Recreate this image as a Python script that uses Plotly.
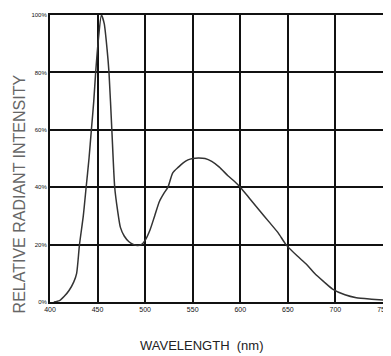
import plotly.graph_objects as go

wavelength = [404, 410, 415, 420, 425, 428, 431, 435, 438, 441, 443.5, 446, 448, 451, 454, 457, 460, 462, 465, 468, 471, 474, 478, 483, 488, 492, 496, 500, 505, 510, 515, 520, 524, 529, 535, 540, 545, 550, 556, 563, 570, 578, 587, 594, 600, 610, 620, 630, 640, 648, 660, 670, 678, 688, 697, 710, 722, 738, 750]
intensity = [0, 0.5, 2, 4, 7, 10, 20, 30, 40, 50, 60, 70, 80, 92, 100, 97, 88, 80, 60, 40, 32, 26, 23, 21, 20, 19.7, 20, 21.5, 25, 30, 35, 38, 40, 45, 47, 48.5, 49.5, 50, 50.2, 50, 49, 47, 44, 42, 40, 36, 32, 28, 24, 20, 16, 13, 10, 7, 4.5, 2.5, 1.5, 1, 0.7]

x_ticks = [400, 450, 500, 550, 600, 650, 700, 750]
x_labels = ["400", "450", "500", "550", "600", "650", "700", "750"]
y_ticks = [0, 20, 40, 60, 80, 100]
y_labels = ["0%", "20%", "40%", "60%", "80%", "100%"]

fig = go.Figure()
fig.add_trace(go.Scatter(
    x=wavelength, y=intensity, mode="lines",
    line=dict(color="#333333", width=1.5, shape="spline", smoothing=0.6),
    showlegend=False, hoverinfo="skip"))

fig.update_layout(
    width=383, height=348,
    margin=dict(l=42, r=8, t=7, b=54),
    paper_bgcolor="white", plot_bgcolor="white",
    font=dict(family="Liberation Sans, Arial, sans-serif", color="#000"),
    xaxis=dict(range=[400, 750], tickvals=x_ticks, ticktext=x_labels,
               showgrid=True, gridcolor="#111", gridwidth=2,
               showline=True, linecolor="#111", linewidth=2, mirror=True,
               zeroline=False, ticks="", automargin=False,
               tickfont=dict(size=7, color="#111")),
    yaxis=dict(range=[0, 100], tickvals=y_ticks, ticktext=y_labels,
               showgrid=True, gridcolor="#111", gridwidth=2,
               showline=True, linecolor="#111", linewidth=2, mirror=True,
               zeroline=False, ticks="", automargin=False,
               tickfont=dict(size=6, color="#111")),
    annotations=[
        dict(text="WAVELENGTH  (nm)", xref="paper", yref="paper", x=0.456, y=-0.15,
             showarrow=False, xanchor="center", yanchor="middle",
             font=dict(size=13, color="#222")),
        dict(text="RELATIVE RADIANT INTENSITY", xref="paper", yref="paper", x=-0.093, y=0.375,
             showarrow=False, xanchor="center", yanchor="middle", textangle=-90,
             font=dict(size=16, color="#666")),
    ],
)

fig.write_html("out.html")
